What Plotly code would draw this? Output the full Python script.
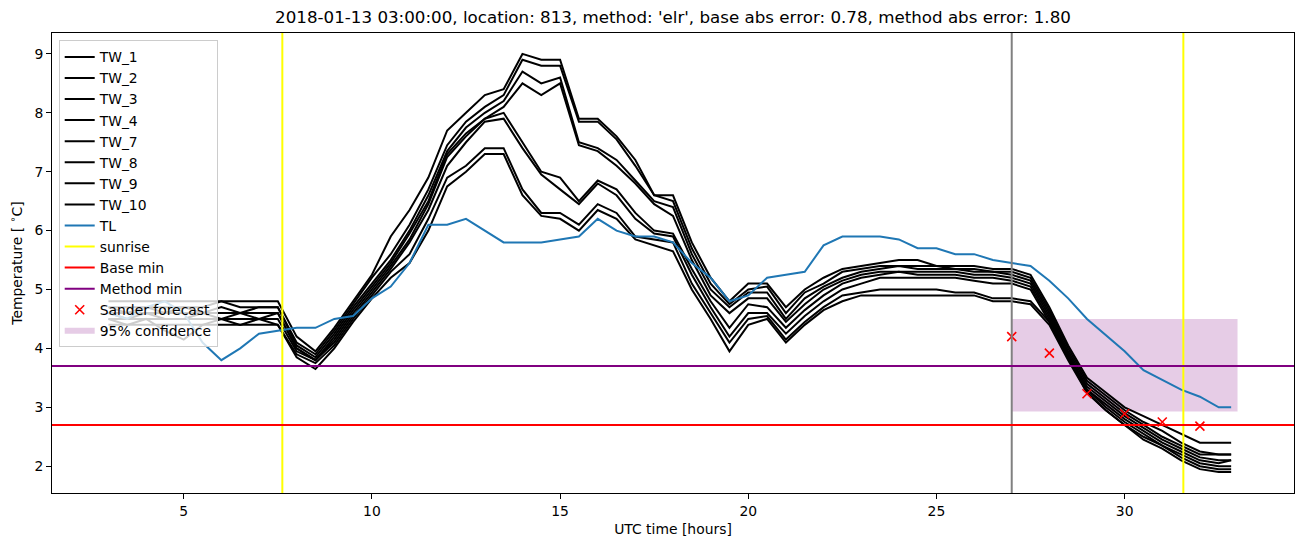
import plotly.graph_objects as go

# ---------------- data ----------------
hours = [3.0, 3.5, 4.0, 4.5, 5.0, 5.5, 6.0, 6.5, 7.0, 7.5,
         8.0, 8.5, 9.0, 9.5, 10.0, 10.5, 11.0, 11.5, 12.0, 12.5,
         13.0, 13.5, 14.0, 14.5, 15.0, 15.5, 16.0, 16.5, 17.0, 17.5,
         18.0, 18.5, 19.0, 19.5, 20.0, 20.5, 21.0, 21.5, 22.0, 22.5,
         23.0, 23.5, 24.0, 24.5, 25.0, 25.5, 26.0, 26.5, 27.0, 27.5,
         28.0, 28.5, 29.0, 29.5, 30.0, 30.5, 31.0, 31.5, 32.0, 32.5,
         32.83]

tw_1 = [4.8, 4.8, 4.8, 4.8, 4.8, 4.8, 4.8, 4.8, 4.8, 4.8,
        4.2, 3.95, 4.35, 4.8, 5.25, 5.9, 6.35, 6.9, 7.7, 8.0,
        8.3, 8.4, 9.0, 8.9, 8.9, 7.9, 7.9, 7.6, 7.2, 6.6,
        6.6, 5.8, 5.2, 4.8, 5.1, 5.1, 4.7, 5.0, 5.2, 5.35,
        5.4, 5.45, 5.5, 5.5, 5.4, 5.4, 5.4, 5.35, 5.35, 5.25,
        4.7, 4.05, 3.5, 3.25, 3.0, 2.85, 2.7, 2.55, 2.4, 2.4,
        2.4]
tw_2 = [4.7, 4.7, 4.7, 4.7, 4.7, 4.7, 4.8, 4.7, 4.7, 4.7,
        4.1, 3.9, 4.3, 4.75, 5.2, 5.6, 6.1, 6.7, 7.45, 7.85,
        8.1, 8.3, 8.9, 8.8, 8.8, 7.85, 7.85, 7.55, 7.1, 6.6,
        6.5, 5.7, 5.1, 4.75, 5.0, 5.05, 4.6, 4.95, 5.1, 5.3,
        5.35, 5.4, 5.4, 5.4, 5.4, 5.35, 5.35, 5.3, 5.3, 5.2,
        4.65, 4.0, 3.45, 3.2, 2.95, 2.75, 2.6, 2.4, 2.25, 2.2,
        2.2]
tw_3 = [4.7, 4.6, 4.7, 4.6, 4.7, 4.6, 4.7, 4.6, 4.7, 4.7,
        4.05, 3.85, 4.25, 4.7, 5.1, 5.5, 6.0, 6.6, 7.35, 7.75,
        8.0, 8.2, 8.7, 8.5, 8.6, 7.5, 7.4, 7.2, 6.85, 6.5,
        6.4, 5.6, 5.0, 4.7, 4.95, 4.95, 4.5, 4.85, 5.05, 5.2,
        5.3, 5.35, 5.4, 5.35, 5.35, 5.35, 5.3, 5.3, 5.25, 5.15,
        4.6, 3.95, 3.4, 3.15, 2.9, 2.7, 2.5, 2.35, 2.2, 2.2,
        2.2]
tw_4 = [4.6, 4.6, 4.6, 4.6, 4.6, 4.6, 4.6, 4.6, 4.6, 4.6,
        4.0, 3.8, 4.2, 4.65, 5.05, 5.45, 5.95, 6.5, 7.3, 7.65,
        7.9, 8.1, 8.5, 8.3, 8.5, 7.45, 7.35, 7.1, 6.8, 6.45,
        6.25, 5.5, 4.9, 4.6, 4.85, 4.85, 4.45, 4.75, 5.0, 5.15,
        5.25, 5.3, 5.3, 5.3, 5.3, 5.3, 5.25, 5.25, 5.2, 5.1,
        4.55, 3.9, 3.35, 3.1, 2.85, 2.65, 2.45, 2.3, 2.15, 2.1,
        2.1]
tw_7 = [4.6, 4.5, 4.6, 4.5, 4.5, 4.6, 4.5, 4.6, 4.5, 4.6,
        4.0, 3.8, 4.15, 4.6, 5.0, 5.4, 5.85, 6.45, 7.25, 7.6,
        7.9, 8.0, 7.5, 7.0, 6.9, 6.5, 6.85, 6.7, 6.3, 6.0,
        5.95, 5.35, 4.8, 4.35, 4.75, 4.7, 4.35, 4.65, 4.9, 5.1,
        5.2, 5.25, 5.3, 5.25, 5.25, 5.25, 5.2, 5.2, 5.15, 5.05,
        4.5, 3.9, 3.3, 3.05, 2.8, 2.6, 2.4, 2.25, 2.1, 2.05,
        2.1]
tw_8 = [4.5, 4.5, 4.5, 4.5, 4.5, 4.5, 4.5, 4.5, 4.5, 4.5,
        3.95, 3.8, 4.1, 4.55, 4.95, 5.35, 5.8, 6.35, 7.1, 7.5,
        7.85, 7.9, 7.4, 6.95, 6.7, 6.45, 6.8, 6.6, 6.2, 5.95,
        5.9, 5.25, 4.7, 4.2, 4.6, 4.6, 4.25, 4.55, 4.8, 5.0,
        5.1, 5.2, 5.2, 5.2, 5.2, 5.2, 5.15, 5.1, 5.1, 5.0,
        4.45, 3.85, 3.3, 3.0, 2.75, 2.55, 2.35, 2.2, 2.05, 2.0,
        2.0]
tw_9 = [4.5, 4.4, 4.5, 4.3, 4.15, 4.4, 4.5, 4.4, 4.5, 4.4,
        3.9, 3.75, 4.05, 4.5, 4.9, 5.3, 5.6, 6.2, 6.9, 7.1,
        7.4, 7.4, 6.7, 6.3, 6.3, 6.1, 6.45, 6.3, 5.9, 5.85,
        5.8, 5.1, 4.6, 4.1, 4.5, 4.55, 4.15, 4.45, 4.7, 4.9,
        4.95, 5.0, 5.0, 5.0, 5.0, 4.95, 4.95, 4.85, 4.85, 4.8,
        4.45, 3.85, 3.25, 2.95, 2.7, 2.5, 2.35, 2.15, 2.0, 1.95,
        1.95]
tw_10 = [4.4, 4.4, 4.4, 4.4, 4.4, 4.4, 4.4, 4.4, 4.4, 4.4,
         3.85, 3.65, 4.0, 4.45, 4.85, 5.2, 5.45, 6.0, 6.75, 7.0,
         7.3, 7.3, 6.6, 6.25, 6.2, 6.0, 6.35, 6.2, 5.85, 5.75,
         5.65, 5.0, 4.5, 3.95, 4.4, 4.5, 4.1, 4.4, 4.65, 4.8,
         4.9, 4.9, 4.9, 4.9, 4.9, 4.9, 4.9, 4.8, 4.8, 4.75,
         4.4, 3.8, 3.25, 2.95, 2.7, 2.45, 2.3, 2.1, 1.95, 1.9,
         1.9]
tl = [4.6, 4.5, 4.7, 4.8, 4.6, 4.1, 3.8, 4.0, 4.25, 4.3,
      4.35, 4.35, 4.5, 4.55, 4.85, 5.05, 5.45, 6.1, 6.1, 6.2,
      6.0, 5.8, 5.8, 5.8, 5.85, 5.9, 6.2, 6.0, 5.9, 5.9,
      5.8, 5.45, 5.2, 4.8, 4.9, 5.2, 5.25, 5.3, 5.75, 5.9,
      5.9, 5.9, 5.85, 5.7, 5.7, 5.6, 5.6, 5.5, 5.45, 5.4,
      5.15, 4.85, 4.5, 4.23, 3.95, 3.63, 3.47, 3.3, 3.18, 3.0,
      3.0]

tw_names = ["TW_1", "TW_2", "TW_3", "TW_4", "TW_7", "TW_8", "TW_9", "TW_10"]
tw_series = [tw_1, tw_2, tw_3, tw_4, tw_7, tw_8, tw_9, tw_10]

sunrise_hours = [7.62, 31.56]
forecast_time = 27.0
base_min = 2.7
method_min = 3.7

fc_hours = [27, 28, 29, 30, 31, 32]
fc_values = [4.2, 3.92, 3.23, 2.89, 2.75, 2.68]

conf_hours = [27.0, 33.0]
conf_low = [2.93, 2.93]
conf_high = [4.5, 4.5]

title = ("2018-01-13 03:00:00, location: 813, method: 'elr', "
         "base abs error: 0.78, method abs error: 1.80")

# ---------------- figure ----------------
fig = go.Figure()

# confidence band (drawn underneath)
fig.add_trace(go.Scatter(
    x=conf_hours + conf_hours[::-1], y=conf_low + conf_high[::-1],
    fill="toself", fillcolor="rgba(128,0,128,0.2)", mode="none",
    line=dict(width=0), name="95% confidence", legendrank=14, hoverinfo="skip"))

rank = 1
for name, vals in zip(tw_names, tw_series):
    fig.add_trace(go.Scatter(x=hours, y=vals, mode="lines", name=name,
                             line=dict(color="black", width=2), legendrank=rank))
    rank += 1

fig.add_trace(go.Scatter(x=hours, y=tl, mode="lines", name="TL",
                         line=dict(color="#1f77b4", width=2), legendrank=9))

# legend-only entries for reference lines
for nm, col, rk in [("sunrise", "yellow", 10), ("Base min", "red", 11),
                    ("Method min", "purple", 12)]:
    fig.add_trace(go.Scatter(x=[None], y=[None], mode="lines", name=nm,
                             line=dict(color=col, width=2), legendrank=rk))

# reference lines as shapes
for sr in sunrise_hours:
    fig.add_shape(type="line", xref="x", yref="paper", x0=sr, x1=sr, y0=0, y1=1,
                  line=dict(color="yellow", width=2), layer="above")
fig.add_shape(type="line", xref="x", yref="paper", x0=forecast_time, x1=forecast_time,
              y0=0, y1=1, line=dict(color="grey", width=2), layer="above")
fig.add_shape(type="line", xref="paper", yref="y", x0=0, x1=1, y0=base_min, y1=base_min,
              line=dict(color="red", width=2), layer="above")
fig.add_shape(type="line", xref="paper", yref="y", x0=0, x1=1, y0=method_min, y1=method_min,
              line=dict(color="purple", width=2), layer="above")

fig.add_trace(go.Scatter(x=fc_hours, y=fc_values, mode="markers", name="Sander forecast",
                         marker=dict(symbol="x-thin", size=9, color="red",
                                     line=dict(color="red", width=1.6)),
                         legendrank=13))

font = "DejaVu Sans, Verdana, sans-serif"
fig.update_layout(
    width=1302, height=547,
    margin=dict(l=52, r=8, t=33, b=54),
    paper_bgcolor="white", plot_bgcolor="white",
    font=dict(family=font, size=13.9, color="black"),
    title=dict(text=title, x=0.5, xref="paper", y=1 - 17 / 547, yref="container",
               xanchor="center", yanchor="middle", font=dict(size=16.7, color="black")),
    showlegend=True,
    legend=dict(x=0.0054, y=0.984, xanchor="left", yanchor="top",
                bgcolor="rgba(255,255,255,0.8)", bordercolor="#cccccc", borderwidth=1,
                font=dict(size=13.9), itemwidth=30, tracegroupgap=0,
                traceorder="normal"),
)
fig.update_xaxes(range=[1.5, 34.5], tick0=0, dtick=5, ticks="outside", ticklen=5,
                 tickwidth=1, tickcolor="black", showline=True, linecolor="black",
                 linewidth=1, mirror=True, showgrid=False, zeroline=False,
                 title=dict(text="UTC time [hours]", standoff=6, font=dict(size=13.9)))
fig.update_yaxes(range=[1.545, 9.355], tick0=0, dtick=1, ticks="outside", ticklen=5,
                 tickwidth=1, tickcolor="black", showline=True, linecolor="black",
                 linewidth=1, mirror=True, showgrid=False, zeroline=False,
                 title=dict(text="Temperature [ <sup>∘</sup>C]", standoff=8,
                            font=dict(size=13.9)))

fig.write_html("out.html")
